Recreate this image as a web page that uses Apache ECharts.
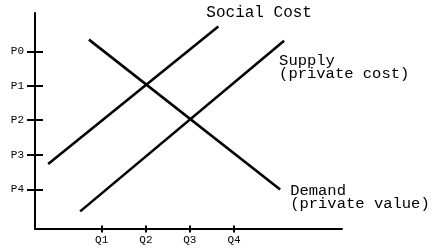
<!DOCTYPE html>
<html>
<head>
<meta charset="utf-8">
<script src="https://cdn.jsdelivr.net/npm/echarts@6/dist/echarts.min.js"></script>
<style>html,body{margin:0;padding:0;background:#fff;}#c{width:433px;height:251px;}</style>
</head>
<body>
<div id="c"></div>
<script>
// Tick labels and positions (data units)
var priceLabels = ['P4', 'P3', 'P2', 'P1', 'P0'];
var priceTicks = [1.15, 2.14, 3.15, 4.14, 5.14];
var qtyLabels = ['Q1', 'Q2', 'Q3', 'Q4'];
var qtyTicks = [1.52, 2.53, 3.53, 4.54];

// Curves: [quantity, price] end points
var socialCost = [[0.30, 1.88], [4.18, 5.86]];
var supply = [[1.03, 0.51], [5.68, 5.45]];
var demand = [[1.23, 5.48], [5.59, 1.14]];

var socialName = 'Social Cost';
var supplyName = 'Supply\n(private cost)';
var demandName = 'Demand\n(private value)';

var FONT = 'Liberation Mono';
var X_MAX = 7, Y_MAX = 6.25;

function fmt(ticks, labels) {
  return function (v) {
    for (var i = 0; i < ticks.length; i++) if (Math.abs(ticks[i] - v) < 1e-6) return labels[i];
    return '';
  };
}

var chart = echarts.init(document.getElementById('c'));
var baseX = {
  type: 'value', min: 0, max: X_MAX, position: 'bottom',
  splitLine: { show: false }
};
var baseY = {
  type: 'value', min: 0, max: Y_MAX, position: 'left',
  splitLine: { show: false }
};
function lineSeries(name, data, endLabel) {
  return {
    type: 'line', name: name, data: data, symbol: 'none', silent: true,
    xAxisIndex: 0, yAxisIndex: 0,
    lineStyle: { color: '#000', width: 2.6 },
    endLabel: Object.assign({
      show: true, formatter: name, color: '#000',
      fontFamily: FONT, fontSize: 15.5, lineHeight: 13, distance: 0,
      align: 'left', verticalAlign: 'middle'
    }, endLabel)
  };
}
chart.setOption({
  animation: false,
  backgroundColor: '#fff',
  grid: { left: 35, top: 13, right: 91, bottom: 22, containLabel: false },
  xAxis: [
    Object.assign({}, baseX, {
      axisLine: { show: true, onZero: false, lineStyle: { color: '#000', width: 2 } },
      axisTick: { show: true, inside: false, length: 3.5, customValues: qtyTicks, lineStyle: { color: '#000', width: 2 } },
      axisLabel: { show: true, customValues: qtyTicks, formatter: fmt(qtyTicks, qtyLabels), color: '#000', fontFamily: FONT, fontSize: 11, margin: 6 }
    }),
    Object.assign({}, baseX, {
      axisLine: { show: false, onZero: false },
      axisTick: { show: true, inside: true, length: 3.5, customValues: qtyTicks, lineStyle: { color: '#000', width: 2 } },
      axisLabel: { show: false }
    })
  ],
  yAxis: [
    Object.assign({}, baseY, {
      axisLine: { show: true, onZero: false, lineStyle: { color: '#000', width: 2 } },
      axisTick: { show: true, inside: false, length: 8, customValues: priceTicks, lineStyle: { color: '#000', width: 2 } },
      axisLabel: { show: true, customValues: priceTicks, formatter: fmt(priceTicks, priceLabels), color: '#000', fontFamily: FONT, fontSize: 11, margin: 11 }
    }),
    Object.assign({}, baseY, {
      axisLine: { show: false, onZero: false },
      axisTick: { show: true, inside: true, length: 8, customValues: priceTicks, lineStyle: { color: '#000', width: 2 } },
      axisLabel: { show: false }
    })
  ],
  series: [
    lineSeries(socialName, socialCost, { offset: [-12, -14], fontSize: 16 }),
    lineSeries(supplyName, supply, { offset: [-5, 27] }),
    lineSeries(demandName, demand, { offset: [10, 8] })
  ]
});
</script>
</body>
</html>
